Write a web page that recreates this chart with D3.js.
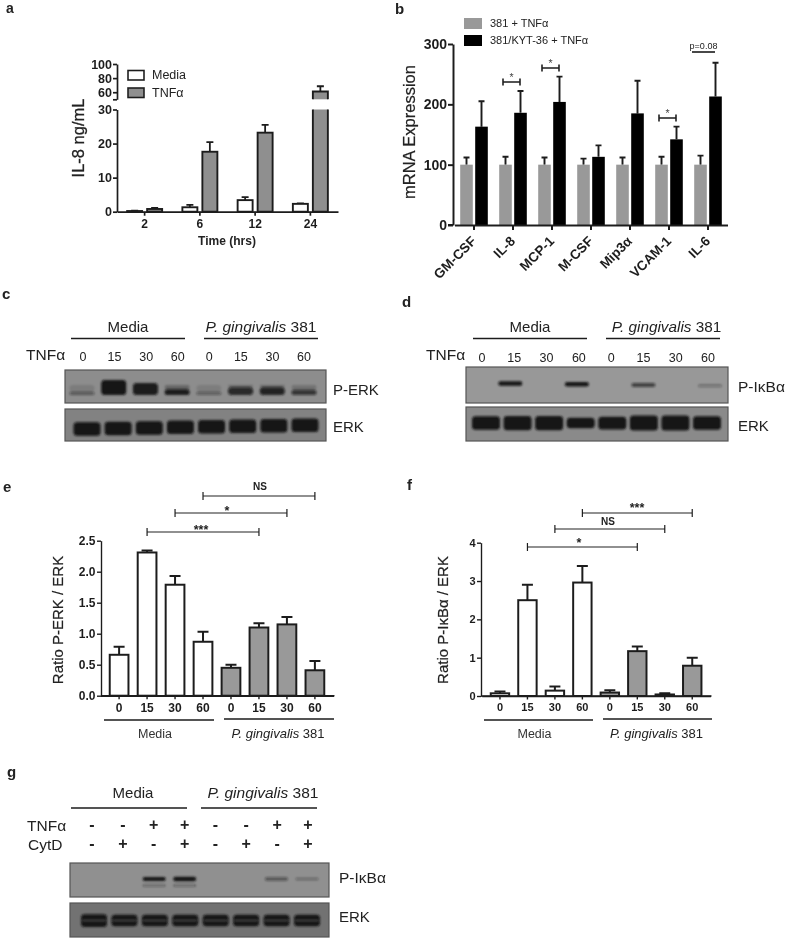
<!DOCTYPE html>
<html><head><meta charset="utf-8">
<script src="https://cdn.jsdelivr.net/npm/d3@7/dist/d3.min.js"></script>
<style>html,body{margin:0;padding:0;background:#fff}svg{display:block}text{font-family:"Liberation Sans",Arial,sans-serif;fill:#222}</style>
</head><body>
<svg id="c" width="787" height="939"></svg>
<script>
// Panel a
const aTimes=["2","6","12","24"], aSeries=["Media","TNFα"];
const aMedia=[0.2,1.3,3.4,2.3], aMediaErr=[0.3,2.0,4.3,2.4];
const aTnf=[0.8,17.6,23.2,61], aTnfErr=[1.1,20.4,25.5,68.5];
// Panel b
const bGenes=["GM-CSF","IL-8","MCP-1","M-CSF","Mip3α","VCAM-1","IL-6"], bSeries=["381 + TNFα","381/KYT-36 + TNFα"];
const bGray=[100,100,100,100,100,100,100], bGrayErr=[112,113,112,110,112,113,115];
const bBlack=[163,186,204,113,185,142,213], bBlackErr=[205,222,246,132,239,163,269];
const bSig=[["IL-8","*"],["MCP-1","*"],["VCAM-1","*"],["IL-6","p=0.08"]];
// Panels e and f
const lanes=["0","15","30","60","0","15","30","60"];
const eVal=[0.66,2.31,1.79,0.87,0.45,1.10,1.15,0.41], eErr=[0.79,2.34,1.93,1.03,0.50,1.17,1.27,0.56];
const fVal=[0.07,2.5,0.14,2.96,0.09,1.17,0.04,0.79], fErr=[0.12,2.9,0.25,3.39,0.15,1.29,0.07,1.0];
const eBrackets=[[3,7,"NS"],[2,6,"*"],[1,5,"***"]], fBrackets=[[3,7,"***"],[2,6,"NS"],[1,5,"*"]];
// Blot band darkness (0 to 1) and band thickness (0 to 1) per lane
const cPErk=[0.45,1,0.95,0.95,0.4,0.85,0.9,0.7], cPErkThick=[0.22,1,0.8,0.38,0.22,0.52,0.52,0.35];
const cErk=[1,1,1,1,1,1,1,1], cErkThick=[0.9,0.9,0.9,0.9,0.9,0.9,0.9,0.9];
const dPI=[0,1,0,1,0,0.65,0,0.3], dPIThick=[0,0.3,0,0.3,0,0.27,0,0.2];
const dErk=[1,1,1,1,1,1,1,1], dErkThick=[0.9,0.95,0.95,0.7,0.85,1,1,0.9];
const gPI=[0,0,1,1,0,0,0.5,0.35], gPIThick=[0,0,0.27,0.3,0,0,0.22,0.17];
const gErk=[1,1,1,1,1,1,1,1], gErkThick=[0.85,0.76,0.76,0.76,0.76,0.76,0.76,0.76];
const gTnf=["-","-","+","+","-","-","+","+"], gCyt=["-","+","-","+","-","+","-","+"];

const svg=d3.select("#c"), DARK="#1e1e1e", GREY="#999";
const defs=svg.append("defs");
defs.append("filter").attr("id","soft").attr("x","-5%").attr("y","-5%").attr("width","110%").attr("height","110%")
  .append("feGaussianBlur").attr("stdDeviation",0.4);
defs.append("filter").attr("id","band").attr("filterUnits","userSpaceOnUse").attr("x",0).attr("y",0).attr("width",787).attr("height",939)
  .append("feGaussianBlur").attr("stdDeviation",1.0);
const root=svg.append("g");

function txt(x,y,s,o={}){const t=root.append("text").attr("x",x).attr("y",y).attr("font-size",o.size||12)
  .attr("font-weight",o.bold?"bold":"normal").attr("text-anchor",o.anchor||"start").text(s);
  if(o.rot!=null)t.attr("transform",`rotate(${o.rot} ${x} ${y})`);
  if(o.fill)t.style("fill",o.fill);
  if(o.heavy)t.attr("stroke","#222").attr("stroke-width",o.heavy); return t;}
function line(x1,x2,y,w=1.7,c=DARK){root.append("line").attr("x1",x1).attr("x2",x2).attr("y1",y).attr("y2",y).attr("stroke",c).attr("stroke-width",w);}
function styleAxis(g,w,size,bold=true){g.selectAll("path,line").attr("stroke",DARK).attr("stroke-width",w);
  g.selectAll("text").attr("font-size",size).attr("font-weight",bold?"bold":"normal").attr("font-family",'"Liberation Sans",Arial,sans-serif').style("fill",DARK);}
function errBar(cx,y1,y2,cap,w){const p=d3.path();p.moveTo(cx,y1);p.lineTo(cx,y2);p.moveTo(cx-cap,y2);p.lineTo(cx+cap,y2);
  root.append("path").attr("d",p.toString()).attr("stroke",DARK).attr("stroke-width",w).attr("fill","none");}
function gingText(cx,y,size){const t=root.append("text").attr("x",cx).attr("y",y).attr("font-size",size).attr("text-anchor","middle");
  t.append("tspan").attr("font-style","italic").text("P. gingivalis");t.append("tspan").text(" 381");return t;}

// ---- a
(function(){
 const y=d3.scaleLinear().domain([0,30]).range([211.7,109.5]), yUp=d3.scaleLinear().domain([50,100]).range([99.3,64]);
 const x=d3.scaleBand().domain(aTimes).range([117,338]);
 const inner=d3.scaleBand().domain(aSeries).range([0,40]).paddingInner(0.25).paddingOuter(0.125);
 const off=x.bandwidth()/2-20, w=inner.bandwidth(), sw=1.9, TF="#8f8f8f";
 aTimes.forEach((t,i)=>{
  const mx=x(t)+off+inner("Media");
  errBar(mx+w/2,y(aMedia[i]),y(aMediaErr[i]),3.5,1.8);
  root.append("rect").attr("x",mx).attr("y",y(aMedia[i])).attr("width",w).attr("height",y(0)-y(aMedia[i])).attr("fill","#fff").attr("stroke",DARK).attr("stroke-width",sw);
  const tx=x(t)+off+inner("TNFα"), v=aTnf[i];
  if(v<=30){
   errBar(tx+w/2,y(v),y(aTnfErr[i]),3.5,1.8);
   root.append("rect").attr("x",tx).attr("y",y(v)).attr("width",w).attr("height",y(0)-y(v)).attr("fill",TF).attr("stroke",DARK).attr("stroke-width",sw);
  } else {
   errBar(tx+w/2,yUp(v),yUp(aTnfErr[i]),3.5,1.8);
   root.append("rect").attr("x",tx).attr("y",y(30)).attr("width",w).attr("height",y(0)-y(30)).attr("fill",TF);
   root.append("rect").attr("x",tx).attr("y",yUp(v)).attr("width",w).attr("height",yUp(50)-yUp(v)).attr("fill",TF);
   const p=d3.path();p.moveTo(tx,y(30));p.lineTo(tx,y(0));p.lineTo(tx+w,y(0));p.lineTo(tx+w,y(30));
   p.moveTo(tx,yUp(50));p.lineTo(tx,yUp(v));p.lineTo(tx+w,yUp(v));p.lineTo(tx+w,yUp(50));
   root.append("path").attr("d",p.toString()).attr("fill","none").attr("stroke",DARK).attr("stroke-width",sw);
  }
 });
 styleAxis(root.append("g").attr("transform","translate(117,0)").call(d3.axisLeft(y).tickValues([0,10,20,30]).tickSize(4).tickPadding(1).tickSizeOuter(0)),1.7,12.5);
 styleAxis(root.append("g").attr("transform","translate(117,0)").call(d3.axisLeft(yUp).tickValues([50,60,80,100]).tickFormat(d=>d===50?"":d).tickSize(4).tickPadding(1).tickSizeOuter(0)),1.7,12.5);
 styleAxis(root.append("g").attr("transform","translate(0,211.7)").call(d3.axisBottom(x).tickSize(4).tickPadding(4).tickSizeOuter(0)),1.7,12);
 txt(227,245,"Time (hrs)",{size:12,bold:true,anchor:"middle"});
 txt(84,138,"IL-8 ng/mL",{size:16.5,anchor:"middle",rot:-90,heavy:0.3});
 [["Media","#fff",70.5,79],["TNFα","#8f8f8f",88,97]].forEach(l=>{
  root.append("rect").attr("x",128).attr("y",l[2]).attr("width",16).attr("height",9.5).attr("fill",l[1]).attr("stroke",DARK).attr("stroke-width",1.6);
  txt(152,l[3],l[0],{size:12.5});
 });
 txt(6,13,"a",{size:14,bold:true});
})();

// ---- b
(function(){
 const y=d3.scaleLinear().domain([0,300]).range([225,44]);
 const x=d3.scaleBand().domain(bGenes).range([454.5,727.5]);
 const inner=d3.scaleBand().domain(bSeries).range([0,30]).paddingInner(0.16).paddingOuter(0.08);
 const off=x.bandwidth()/2-15,w=inner.bandwidth();
 bGenes.forEach((g,i)=>{
  const gx=x(g)+off+inner(bSeries[0]), kx=x(g)+off+inner(bSeries[1]);
  errBar(gx+w/2,y(bGray[i]),y(bGrayErr[i]),3,1.9);
  errBar(kx+w/2,y(bBlack[i]),y(bBlackErr[i]),3,1.9);
  root.append("rect").attr("x",gx).attr("y",y(bGray[i])).attr("width",w).attr("height",y(0)-y(bGray[i])).attr("fill",GREY);
  root.append("rect").attr("x",kx).attr("y",y(bBlack[i])).attr("width",w).attr("height",y(0)-y(bBlack[i])).attr("fill","#000");
 });
 styleAxis(root.append("g").attr("transform","translate(453,0)").call(d3.axisLeft(y).tickValues([0,100,200,300]).tickSize(5).tickPadding(1).tickSizeOuter(0)),2,14);
 const ax=root.append("g").attr("transform","translate(0,225)").call(d3.axisBottom(x).tickSize(5).tickSizeOuter(0));
 styleAxis(ax,2,13.5);
 root.append("line").attr("x1",448).attr("x2",453).attr("y1",225).attr("y2",225).attr("stroke",DARK).attr("stroke-width",2);
 ax.selectAll("text").attr("text-anchor","end").attr("dy",0).attr("x",0).attr("y",0).attr("transform","translate(3,17) rotate(-45)");
 [[bSeries[0],GREY,18,27],[bSeries[1],"#000",35,44]].forEach(l=>{
  root.append("rect").attr("x",464).attr("y",l[2]).attr("width",18).attr("height",11).attr("fill",l[1]);
  txt(490,l[3],l[0],{size:11});
 });
 const lev={"IL-8":82,"MCP-1":68,"VCAM-1":118,"IL-6":52};
 bSig.forEach(s=>{
  const yy=lev[s[0]];
  if(s[1]==="*"){
   const cx=x(s[0])+x.bandwidth()/2-1.5;
   const p=d3.path();p.moveTo(cx-8.5,yy-3.5);p.lineTo(cx-8.5,yy+3.5);p.moveTo(cx-8.5,yy);p.lineTo(cx+8.5,yy);p.moveTo(cx+8.5,yy-3.5);p.lineTo(cx+8.5,yy+3.5);
   root.append("path").attr("d",p.toString()).attr("fill","none").attr("stroke",DARK).attr("stroke-width",1.6);
   txt(cx,yy-1,"*",{size:10.5,anchor:"middle",fill:"#444"});
  } else {
   const cx=x(s[0])+x.bandwidth()/2-4.5;
   line(cx-11.5,cx+11.5,yy,1.6);
   txt(cx,yy-3,s[1],{size:9,anchor:"middle"});
  }
 });
 txt(415,132,"mRNA Expression",{size:16.5,anchor:"middle",rot:-90,heavy:0.2});
 txt(395,14,"b",{size:15,bold:true});
})();

// ---- blots: lane centres come from a point scale, thickness from a linear scale
const thick=d3.scaleLinear().domain([0,1]).range([0,15]);
function blot(box,range,dens,th,opt){
 const [x0,x1,y0,y1]=box;
 root.append("rect").attr("x",x0).attr("y",y0).attr("width",x1-x0).attr("height",y1-y0).attr("fill",opt.bg).attr("stroke","#555").attr("stroke-width",1.2);
 const x=d3.scalePoint().domain(d3.range(dens.length)).range(range);
 const g=root.append("g").attr("filter","url(#band)");
 dens.forEach((d,i)=>{
  if(d<=0)return;
  const h=thick(th[i]), w=opt.w, cy=opt.y+(opt.tilt||0)*i, top=opt.bottomAlign?cy-h:cy-h/2;
  const bar=(yy,hh,op,ww=w)=>g.append("rect").attr("x",x(i)-ww/2).attr("y",yy).attr("width",ww).attr("height",hh).attr("fill","#141414").attr("opacity",op).attr("rx",Math.min(3.5,hh/2));
  if(opt.smear&&th[i]<0.6) bar(cy-10,10-h,d*0.28);
  if(opt.ghost&&d===1) bar(cy+5,3,0.3);
  bar(top,h,d);
  if(opt.slit){ g.append("rect").attr("x",x(i)-w/2+1).attr("y",cy-0.6).attr("width",w-2).attr("height",1.2).attr("fill",opt.bg).attr("opacity",opt.slit); }
 });
}
function laneLabels(arr,x0,x1,y,size=12.5,bold=false){const x=d3.scalePoint().domain(d3.range(arr.length)).range([x0,x1]);
 arr.forEach((s,i)=>txt(x(i),y,s,{size,anchor:"middle",bold}));}

// c
txt(2,299,"c",{size:15,bold:true});
txt(128,332,"Media",{size:15,anchor:"middle"}); gingText(261,332,15.5);
line(71,185,338.5);line(204,318,338.5);
txt(26,360,"TNFα",{size:15.5}); laneLabels(lanes,83,304,361);
blot([65,326,370,403],[82,304],cPErk,cPErkThick,{bg:"#8d8d8d",y:395,w:25,bottomAlign:true,smear:true});
blot([65,326,409,441],[87,305],cErk,cErkThick,{bg:"#828282",y:429,w:27,tilt:-0.55,slit:0.1});
txt(333,395,"P-ERK",{size:15});txt(333,432,"ERK",{size:15});

// d
txt(402,307,"d",{size:15,bold:true});
txt(530,332,"Media",{size:15,anchor:"middle"}); gingText(666.5,332,15.3);
line(473,587,338.5);line(606,720,338.5);
txt(426,360,"TNFα",{size:15.5}); laneLabels(lanes,482,708,362);
blot([466,728,367,403],[477,710],dPI,dPIThick,{bg:"#989898",y:383,w:24,tilt:0.4});
blot([466,728,407,441],[486,707],dErk,dErkThick,{bg:"#8a8a8a",y:423,w:28});
txt(738,392,"P-IκBα",{size:15.5});txt(738,431,"ERK",{size:15});

// bars e/f
function barPanel(cfg){
 const y=d3.scaleLinear().domain(cfg.dom).range(cfg.yr);
 const x=d3.scaleBand().domain(d3.range(8)).range(cfg.xr).padding(0.33);
 cfg.val.forEach((v,i)=>{
  const cx=x(i)+x.bandwidth()/2;
  errBar(cx,y(v),y(cfg.err[i]),5.5,2);
  root.append("rect").attr("x",x(i)).attr("y",y(v)).attr("width",x.bandwidth()).attr("height",y(cfg.dom[0])-y(v))
   .attr("fill",i<4?"#fff":GREY).attr("stroke",DARK).attr("stroke-width",2);
 });
 styleAxis(root.append("g").attr("transform",`translate(${cfg.axisX},0)`).call(d3.axisLeft(y).tickValues(cfg.ticks).tickFormat(cfg.fmt).tickSize(4).tickPadding(1.5).tickSizeOuter(0)),1.4,cfg.tickSize);
 styleAxis(root.append("g").attr("transform",`translate(0,${cfg.yr[0]})`).call(d3.axisBottom(x).tickFormat(i=>lanes[i]).tickSize(3.5).tickPadding(4).tickSizeOuter(0)),1.4,12-(cfg.tickSize<12?1:0));
 root.append("line").attr("x1",cfg.axisX).attr("x2",cfg.xr[1]+1).attr("y1",cfg.yr[0]).attr("y2",cfg.yr[0]).attr("stroke",DARK).attr("stroke-width",1.4);
 cfg.brackets.forEach((b,i)=>{
  const a=x(b[0])+x.bandwidth()/2,c=x(b[1])+x.bandwidth()/2,yy=cfg.levels[i];
  const p=d3.path();p.moveTo(a,yy-4);p.lineTo(a,yy+4);p.moveTo(a,yy);p.lineTo(c,yy);p.moveTo(c,yy-4);p.lineTo(c,yy+4);
  root.append("path").attr("d",p.toString()).attr("stroke",DARK).attr("fill","none").attr("stroke-width",1.2);
  const star=b[2]!=="NS";
  txt(cfg.labelX[i],star?yy+(cfg.starDy[i]):yy-cfg.nsDy,b[2],{size:star?12.5:10,bold:true,anchor:"middle"});
 });
 line(cfg.m[0],cfg.m[1],720,1.7);line(cfg.p[0],cfg.p[1],719,1.7);
 txt((cfg.m[0]+cfg.m[1])/2-4,738,"Media",{size:12.5,anchor:"middle",fill:"#333"});
 gingText((cfg.p[0]+cfg.p[1])/2-1,738,13);
 txt(cfg.titleX,620,cfg.title,{size:cfg.titleSize,anchor:"middle",rot:-90,fill:"#222",heavy:0.2});
}
barPanel({dom:[0,2.5],yr:[695.7,540.7],xr:[100.5,333.5],axisX:101,val:eVal,err:eErr,ticks:[0,.5,1,1.5,2,2.5],fmt:d3.format(".1f"),tickSize:12,
 brackets:eBrackets,levels:[496,513,532],labelX:[260,227,201],starDy:[0,2,2],nsDy:6,m:[104,214],p:[224,334],titleX:63,title:"Ratio P-ERK / ERK",titleSize:15});
barPanel({dom:[0,4],yr:[696,542.7],xr:[481.7,710.5],axisX:481,val:fVal,err:fErr,ticks:[0,1,2,3,4],fmt:d3.format("d"),tickSize:11,
 brackets:fBrackets,levels:[513,529,547],labelX:[637,608,579],starDy:[-1,0,0],nsDy:4,m:[484,593],p:[603,712],titleX:448,title:"Ratio P-IκBα / ERK",titleSize:15});
txt(3,492,"e",{size:15,bold:true});txt(407,490,"f",{size:15,bold:true});

// g
txt(7,777,"g",{size:15,bold:true});
txt(133,798,"Media",{size:15,anchor:"middle"}); gingText(263,798,15.5);
line(71,187,808);line(201,317,808);
txt(27,831,"TNFα",{size:15.5});txt(28,850,"CytD",{size:15.5});
laneLabels(gTnf,92,308,830,16,true);laneLabels(gCyt,92,308,849,16,true);
blot([70,329,863,897],[93,307],gPI,gPIThick,{bg:"#909090",y:879,w:23,ghost:true});
blot([70,329,903,937],[94,307],gErk,gErkThick,{bg:"#727272",y:920.5,w:26,slit:0.55});
txt(339,883,"P-IκBα",{size:15.5});txt(339,922,"ERK",{size:15});
root.attr("filter","url(#soft)");
</script></body></html>
